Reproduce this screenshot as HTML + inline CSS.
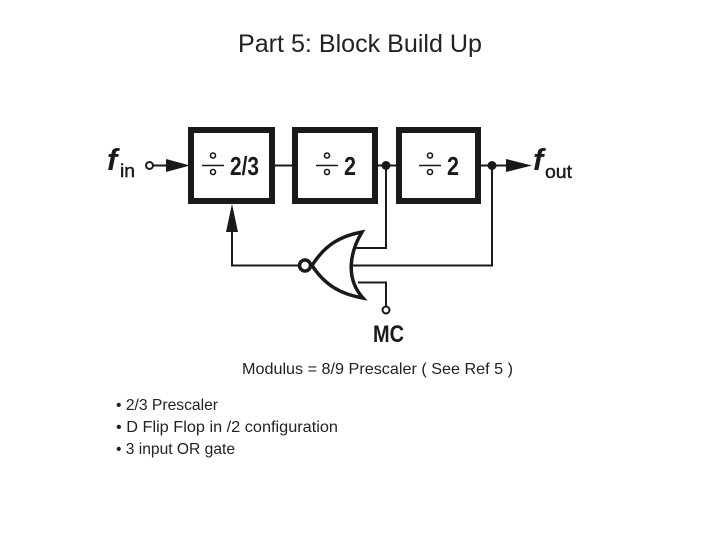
<!DOCTYPE html>
<html><head><meta charset="utf-8"><style>
html,body{margin:0;padding:0;background:#fff}
svg{display:block}
.t{font-family:"Liberation Sans",sans-serif;fill:#222}
.d{font-family:"Liberation Sans",sans-serif;fill:#1a1a1a}
.i{font-family:"Liberation Sans",sans-serif;font-style:italic;font-weight:bold;fill:#1a1a1a}
</style></head><body>
<svg width="720" height="540" viewBox="0 0 720 540" xmlns="http://www.w3.org/2000/svg">
<rect width="720" height="540" fill="#fff"/>
<text class="t" x="238" y="52" font-size="25" textLength="244" lengthAdjust="spacingAndGlyphs">Part 5: Block Build Up</text>

<g fill="none" stroke="#1a1a1a">
<rect x="191" y="130" width="81" height="71" stroke-width="6"/>
<rect x="295" y="130" width="80" height="71" stroke-width="6"/>
<rect x="399" y="130" width="79" height="71" stroke-width="6"/>
<g stroke-width="2">
<circle cx="149.500" cy="165.500" r="3.500"/>
<path d="M153 165.500H170M275 165.500H292M378 165.500H396M480 165.500H510"/>
<path d="M386 166V248H356M492 166V265.500H352M232 225V265.500H300M358 282.500H386V306"/>
<circle cx="386" cy="310" r="3.500"/>
<g stroke-width="1.600">
<path d="M202 165.500H224M316 165.500H338M419 165.500H441"/>
<circle cx="213" cy="155.500" r="2.500"/><circle cx="213" cy="172" r="2.500"/>
<circle cx="327" cy="155.500" r="2.500"/><circle cx="327" cy="172" r="2.500"/>
<circle cx="430" cy="155.500" r="2.500"/><circle cx="430" cy="172" r="2.500"/>
</g>
</g>
<path d="M312 265.500C325 245 340 236 362 232C350 252 345 278 363 298C340 294 325 285 312 265.500Z" stroke-width="3.500" stroke-linejoin="miter"/>
<circle cx="305" cy="265.500" r="5.500" stroke-width="3.500"/>
</g>
<g fill="#1a1a1a">
<path d="M166 159L190 165.500L166 172Z"/>
<path d="M506 159L532 165.500L506 172Z"/>
<path d="M232 204L238 232H226Z"/>
<circle cx="386" cy="165.500" r="4.500"/>
<circle cx="492" cy="165.500" r="4.500"/>
</g>
<text class="d" x="230" y="175" font-size="26" font-weight="bold" textLength="29" lengthAdjust="spacingAndGlyphs">2/3</text>
<text class="d" x="344" y="175" font-size="26" font-weight="bold" textLength="12" lengthAdjust="spacingAndGlyphs">2</text>
<text class="d" x="447" y="175" font-size="26" font-weight="bold" textLength="12" lengthAdjust="spacingAndGlyphs">2</text>
<text class="i" x="107" y="170" font-size="31">f</text>
<text class="d" x="120" y="177" font-size="18" textLength="15" lengthAdjust="spacingAndGlyphs" stroke="#1a1a1a" stroke-width=".4">in</text>
<text class="i" x="533" y="170" font-size="31">f</text>
<text class="d" x="545" y="178" font-size="18" textLength="27" lengthAdjust="spacingAndGlyphs" stroke="#1a1a1a" stroke-width=".4">out</text>
<text class="d" x="373" y="342" font-size="24" font-weight="bold" textLength="31" lengthAdjust="spacingAndGlyphs">MC</text>
<text class="t" font-size="16" x="242" y="374" textLength="271" lengthAdjust="spacingAndGlyphs">Modulus = 8/9 Prescaler  ( See Ref 5 )</text>
<text class="t" font-size="16" x="116" y="410" textLength="102" lengthAdjust="spacingAndGlyphs">• 2/3 Prescaler</text>
<text class="t" font-size="16" x="116" y="432" textLength="222" lengthAdjust="spacingAndGlyphs">• D Flip Flop in /2 configuration</text>
<text class="t" font-size="16" x="116" y="454" textLength="119" lengthAdjust="spacingAndGlyphs">• 3 input OR gate</text>
</svg>
</body></html>
